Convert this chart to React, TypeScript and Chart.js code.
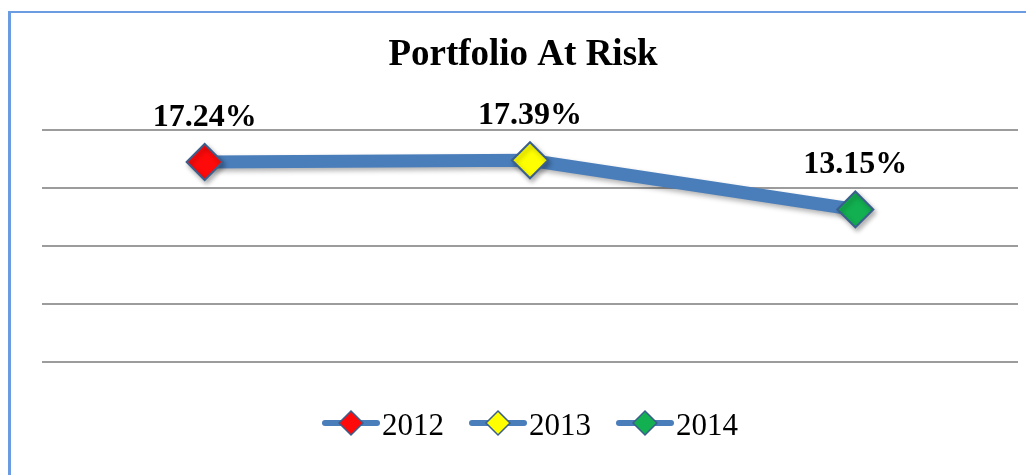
import React, { useEffect, useRef } from "react";
import { Chart, registerables } from "chart.js";

Chart.register(...registerables);

const title = "Portfolio At Risk";
const categories = ["2012", "2013", "2014"];
const values = [0.1724, 0.1739, 0.1315];
const pointColors = ["#ff0a0a", "#ffff00", "#12b050"];
const yTicks = [0, 0.05, 0.1, 0.15, 0.2];

const LINE = "#4a7ebb";
const MARK_EDGE = "#3a5f8d";
const SERIF = "'Liberation Serif', 'Times New Roman', serif";

function fmt(v: number) {
  return (v * 100).toFixed(2) + "%";
}

function diamond(ctx: CanvasRenderingContext2D, x: number, y: number, r: number, fill: string, lw: number) {
  ctx.beginPath();
  ctx.moveTo(x, y - r);
  ctx.lineTo(x + r, y);
  ctx.lineTo(x, y + r);
  ctx.lineTo(x - r, y);
  ctx.closePath();
  ctx.fillStyle = fill;
  ctx.fill();
  ctx.lineWidth = lw;
  ctx.strokeStyle = MARK_EDGE;
  ctx.stroke();
}

const decorPlugin = {
  id: "decor",
  beforeDatasetsDraw(chart: any) {
    const ctx = chart.ctx;
    ctx.save();
    ctx.shadowColor = "rgba(0,0,0,0.3)";
    ctx.shadowBlur = 5;
    ctx.shadowOffsetX = 2;
    ctx.shadowOffsetY = 3;
  },
  afterDatasetsDraw(chart: any) {
    const ctx = chart.ctx;
    ctx.restore();
    const meta = chart.getDatasetMeta(0);
    ctx.save();
    ctx.font = `bold 32px ${SERIF}`;
    ctx.fillStyle = "#000";
    ctx.textAlign = "center";
    ctx.textBaseline = "alphabetic";
    meta.data.forEach((pt: any, i: number) => {
      ctx.fillText(fmt(values[i]), pt.x, pt.y - 36);
    });
    ctx.restore();
  },
  afterDraw(chart: any) {
    const ctx = chart.ctx;
    ctx.save();
    // title
    ctx.font = `bold 37px ${SERIF}`;
    ctx.fillStyle = "#000";
    ctx.textAlign = "center";
    ctx.textBaseline = "alphabetic";
    ctx.fillText(title, 523, 65);

    // legend
    ctx.font = `31px ${SERIF}`;
    const lineLen = 58;
    const gap = 2;
    const spacing = 25;
    const widths = categories.map((c) => ctx.measureText(c).width);
    const total = widths.reduce((a, w) => a + lineLen + gap + w, 0) + spacing * (categories.length - 1);
    const area = chart.chartArea;
    let x = (area.left + area.right) / 2 - total / 2;
    const y = 423;
    ctx.textAlign = "left";
    categories.forEach((c, i) => {
      ctx.beginPath();
      ctx.lineCap = "round";
      ctx.lineWidth = 6;
      ctx.strokeStyle = LINE;
      ctx.moveTo(x + 3, y);
      ctx.lineTo(x + lineLen - 3, y);
      ctx.stroke();
      diamond(ctx, x + lineLen / 2, y, 12, pointColors[i], 1.5);
      ctx.fillStyle = "#000";
      ctx.fillText(c, x + lineLen + gap, 435);
      x += lineLen + gap + widths[i] + spacing;
    });
    ctx.restore();
  },
};

export default function App() {
  const ref = useRef<HTMLCanvasElement | null>(null);

  useEffect(() => {
    if (!ref.current) return;
    const chart = new Chart(ref.current, {
      type: "line",
      data: {
        labels: categories,
        datasets: [
          {
            label: title,
            data: values,
            borderColor: LINE,
            borderWidth: 13,
            tension: 0,
            pointStyle: "rectRot",
            pointRadius: 18,
            pointHoverRadius: 18,
            pointBackgroundColor: pointColors,
            pointBorderColor: MARK_EDGE,
            pointBorderWidth: 2,
          },
        ],
      },
      options: {
        animation: false,
        responsive: false,
        events: [],
        layout: { autoPadding: false, padding: { left: 42, right: 8, top: 130, bottom: 113 } },
        plugins: {
          legend: { display: false },
          title: { display: false },
          tooltip: { enabled: false },
        },
        scales: {
          x: { type: "category", offset: true, display: false },
          y: {
            min: 0,
            max: 0.2,
            afterBuildTicks: (s: any) => {
              s.ticks = yTicks.map((v) => ({ value: v }));
            },
            ticks: { display: false },
            border: { display: false },
            grid: { color: "#9c9c9c", lineWidth: 2, drawTicks: false },
          },
        },
      },
      plugins: [decorPlugin],
    });
    return () => chart.destroy();
  }, []);

  return (
    <div style={{ position: "fixed", left: 0, top: 0, width: 1026, height: 475, background: "#fff" }}>
      <div
        style={{
          position: "absolute",
          left: 8,
          top: 11,
          right: 0,
          bottom: 0,
          borderLeft: "3px solid #6b9be0",
          borderTop: "2px solid #6b9be0",
        }}
      />
      <canvas ref={ref} width={1026} height={475} style={{ position: "absolute", left: 0, top: 0 }} />
    </div>
  );
}
